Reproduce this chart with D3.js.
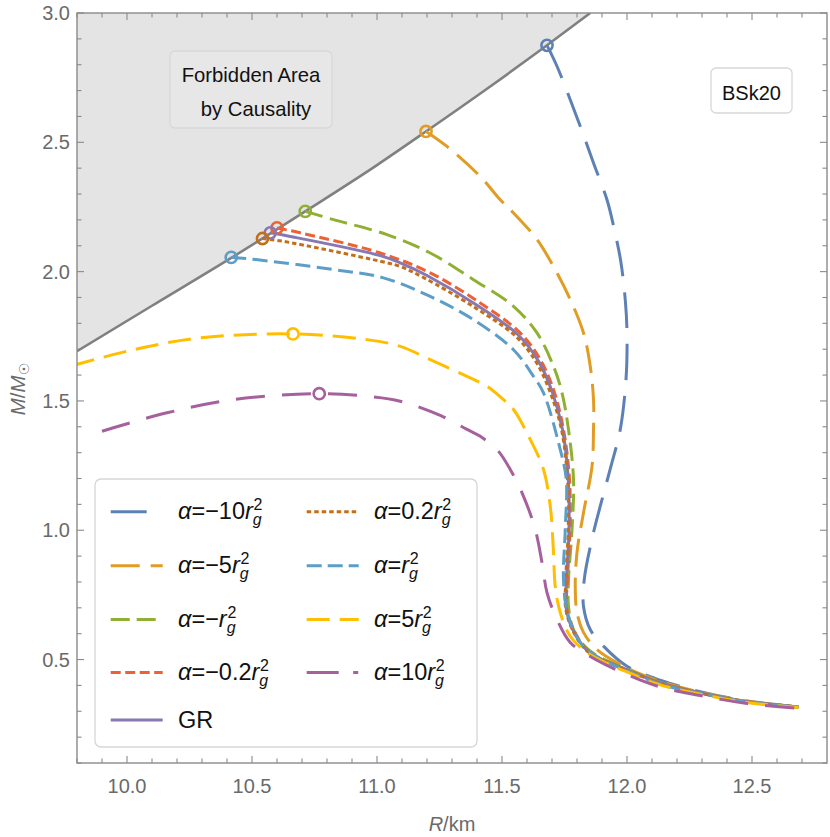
<!DOCTYPE html>
<html><head><meta charset="utf-8">
<script src="https://cdn.jsdelivr.net/npm/d3@7"></script>
<style>
body{margin:0;background:#fff}
svg{display:block}
text{font-family:"Liberation Sans",Arial,sans-serif}
</style>
</head><body>
<svg id="chart" width="830" height="837"></svg>
<script>
// ---------- data ----------
const xDomain = [9.8, 12.8];
const yDomain = [0.1, 3.0];
const xTickLabels = [10.0, 10.5, 11.0, 11.5, 12.0, 12.5];
const yTickLabels = [0.5, 1.0, 1.5, 2.0, 2.5, 3.0];

const causalityR = [9.8, 10.1, 10.417, 10.713, 11.0, 11.196, 11.45, 11.68, 11.853];
const causalityM = [1.692, 1.868, 2.053, 2.233, 2.412, 2.542, 2.714, 2.875, 3.0];

const seriesNames = ["α=−10", "α=−5", "α=−1", "α=−0.2", "GR", "α=0.2", "α=1", "α=5", "α=10"];

const rAm10 = [11.68,11.72,11.813,11.866,11.92,11.95,11.975,11.993,12.0,11.996,11.973,11.94,11.893,11.86,11.829,11.826,11.853,11.906,12.0,12.133,12.293,12.48,12.686];
const mAm10 = [2.875,2.794,2.562,2.42,2.278,2.16,2.04,1.892,1.763,1.583,1.389,1.262,1.093,0.966,0.809,0.706,0.616,0.552,0.474,0.42,0.376,0.340,0.318];

const rAm5 = [11.196,11.28,11.413,11.493,11.546,11.64,11.706,11.773,11.826,11.853,11.866,11.866,11.86,11.826,11.8,11.793,11.8,11.826,11.88,12.0,12.133,12.293,12.48,12.686];
const mAm5 = [2.542,2.484,2.368,2.278,2.227,2.124,2.02,1.892,1.763,1.634,1.505,1.389,1.247,1.068,0.914,0.782,0.682,0.605,0.539,0.468,0.416,0.374,0.339,0.317];

const rAm1 = [10.713,10.826,11.04,11.213,11.386,11.546,11.64,11.706,11.74,11.766,11.786,11.78,11.766,11.766,11.786,11.85,12.0,12.133,12.293,12.48,12.686];
const mAm1 = [2.233,2.201,2.143,2.072,1.969,1.866,1.763,1.634,1.531,1.389,1.196,1.003,0.809,0.706,0.616,0.535,0.462,0.412,0.372,0.338,0.317];

const rAm02 = [10.6,10.693,11.013,11.213,11.413,11.573,11.653,11.706,11.746,11.77,11.772,11.762,11.76,11.8,11.853,12.0,12.133,12.293,12.48,12.686];
const mAm02 = [2.169,2.15,2.072,1.995,1.879,1.763,1.66,1.544,1.389,1.196,1.003,0.809,0.69,0.59,0.527,0.460,0.410,0.371,0.337,0.316];

const rGR = [10.573,10.653,11.013,11.093,11.2,11.4,11.565,11.647,11.70,11.742,11.765,11.768,11.758,11.758,11.797,11.85,12.0,12.133,12.293,12.48,12.686];
const mGR = [2.15,2.136,2.062,2.034,1.985,1.87,1.755,1.652,1.537,1.389,1.196,1.003,0.809,0.69,0.59,0.527,0.460,0.410,0.371,0.337,0.316];

const rAp02 = [10.542,10.626,11.013,11.093,11.19,11.39,11.557,11.64,11.694,11.738,11.762,11.765,11.755,11.756,11.795,11.848,12.0,12.133,12.293,12.48,12.686];
const mAp02 = [2.128,2.117,2.04,2.02,1.975,1.862,1.748,1.645,1.53,1.389,1.196,1.003,0.809,0.69,0.59,0.527,0.459,0.409,0.370,0.337,0.316];

const rAp1 = [10.417,10.493,10.826,11.026,11.213,11.386,11.546,11.626,11.666,11.733,11.757,11.753,11.746,11.762,11.813,11.9,12.0,12.133,12.293,12.48,12.686];
const mAp1 = [2.055,2.049,2.008,1.976,1.904,1.814,1.698,1.595,1.531,1.312,1.196,1.003,0.809,0.682,0.566,0.5,0.457,0.405,0.369,0.336,0.316];

const rAp5 = [9.78,10.026,10.293,10.664,10.96,11.093,11.213,11.386,11.44,11.506,11.546,11.613,11.666,11.693,11.706,11.713,11.733,11.773,11.84,11.92,12.0,12.133,12.293,12.48,12.686];
const mAp5 = [1.636,1.698,1.744,1.759,1.737,1.711,1.66,1.583,1.557,1.505,1.467,1.351,1.235,1.093,0.914,0.782,0.682,0.590,0.527,0.485,0.452,0.402,0.366,0.334,0.315];

const rAp10 = [9.9,10.16,10.426,10.769,10.96,11.093,11.253,11.36,11.413,11.48,11.533,11.586,11.633,11.66,11.68,11.72,11.773,11.853,12.0,12.133,12.293,12.48,12.672];
const mAp10 = [1.383,1.454,1.505,1.528,1.518,1.499,1.444,1.39,1.363,1.312,1.235,1.131,1.003,0.875,0.759,0.655,0.566,0.512,0.442,0.394,0.361,0.330,0.312];

const markerR = [11.68, 11.196, 10.713, 10.6, 10.573, 10.542, 10.417, 10.664, 10.769];
const markerM = [2.875, 2.542, 2.233, 2.169, 2.15, 2.128, 2.055, 1.759, 1.528];

// ---------- styles ----------
const seriesR = [rAm10, rAm5, rAm1, rAm02, rGR, rAp02, rAp1, rAp5, rAp10];
const seriesM = [mAm10, mAm5, mAm1, mAm02, mGR, mAp02, mAp1, mAp5, mAp10];
const colors = ["#5E81B5","#E19C24","#8FB032","#EB6235","#8778B3","#C56E1A","#5D9EC7","#FFBF00","#A5609D"];
const dashes = ["36,16","28,11","18,7.5","10,4.5",null,"4.5,3","15,6.5","23,10","29,17"];
const legendDashes = ["36,16","29,11","19,7","10,4.5",null,"4.5,3","15,6","23,10","32,14.5,5,14.5"];
const legendNum = ["−10","−5","−","−0.2",null,"0.2","","5","10"];

const svg = d3.select("#chart");
const P = {l:77, t:13, r:827, b:763};
const x = d3.scaleLinear().domain(xDomain).range([P.l, P.r]);
const y = d3.scaleLinear().domain(yDomain).range([P.b, P.t]);

svg.append("defs").append("clipPath").attr("id","clip")
  .append("rect").attr("x",P.l).attr("y",P.t).attr("width",P.r-P.l).attr("height",P.b-P.t);

const plot = svg.append("g").attr("clip-path","url(#clip)");

// forbidden area
const cz = causalityR.map((r,i)=>[r,causalityM[i]]);
plot.append("path")
  .attr("d", d3.area().x(d=>x(d[0])).y0(y(yDomain[1])).y1(d=>y(d[1])).curve(d3.curveMonotoneX)(cz))
  .attr("fill","#e4e4e4");
plot.append("path")
  .attr("d", d3.line().x(d=>x(d[0])).y(d=>y(d[1])).curve(d3.curveMonotoneX)(cz))
  .attr("fill","none").attr("stroke","#808080").attr("stroke-width",2.6);

// curves
const line = d3.line().x(d=>x(d[0])).y(d=>y(d[1])).curve(d3.curveCatmullRom.alpha(0.5));
seriesR.forEach((rs,i)=>{
  const pts = rs.map((r,j)=>[r, seriesM[i][j]]);
  plot.append("path").attr("d", line(pts))
    .attr("fill","none").attr("stroke",colors[i]).attr("stroke-width",3)
    .attr("stroke-dasharray", dashes[i] || null);
});
// markers
markerR.forEach((r,i)=>{
  plot.append("circle").attr("cx",x(r)).attr("cy",y(markerM[i])).attr("r",5.6)
    .attr("fill","none").attr("stroke",colors[i]).attr("stroke-width",2.6);
});

// frame + ticks
const frameCol = "#8a8a8a";
svg.append("rect").attr("x",P.l).attr("y",P.t).attr("width",P.r-P.l).attr("height",P.b-P.t)
  .attr("fill","none").attr("stroke",frameCol).attr("stroke-width",1.4);
const tg = svg.append("g").attr("stroke",frameCol).attr("stroke-width",1.1);
d3.range(98, 128).forEach(k=>{
  const v = k/10; const major = (k % 5 === 0); const L = major ? 7 : 4.5;
  tg.append("line").attr("x1",x(v)).attr("x2",x(v)).attr("y1",P.b).attr("y2",P.b-L);
  tg.append("line").attr("x1",x(v)).attr("x2",x(v)).attr("y1",P.t).attr("y2",P.t+L);
});
d3.range(1, 31).forEach(k=>{
  const v = k/10; const major = (k % 5 === 0); const L = major ? 7 : 4.5;
  tg.append("line").attr("y1",y(v)).attr("y2",y(v)).attr("x1",P.l).attr("x2",P.l+L);
  tg.append("line").attr("y1",y(v)).attr("y2",y(v)).attr("x1",P.r).attr("x2",P.r-L);
});
const labCol = "#6a6a6a";
xTickLabels.forEach(v=>{
  svg.append("text").attr("x",x(v)).attr("y",793).attr("text-anchor","middle")
    .attr("font-size",20).attr("fill",labCol).text(v.toFixed(1));
});
yTickLabels.forEach(v=>{
  svg.append("text").attr("x",70).attr("y",y(v)+7).attr("text-anchor","end")
    .attr("font-size",20).attr("fill",labCol).text(v.toFixed(1));
});
// axis labels
const xl = svg.append("text").attr("x",(P.l+P.r)/2).attr("y",831).attr("text-anchor","middle")
  .attr("font-size",20).attr("fill",labCol);
xl.append("tspan").attr("font-style","italic").text("R");
xl.append("tspan").text("/km");
const yl = svg.append("text").attr("transform","translate(25,389) rotate(-90)").attr("text-anchor","middle")
  .attr("font-size",20.5).attr("fill",labCol);
yl.append("tspan").attr("font-style","italic").text("M");
yl.append("tspan").text("/");
yl.append("tspan").attr("font-style","italic").text("M");
yl.append("tspan").attr("dy",4).attr("font-size",14).attr("font-family","DejaVu Sans").text("☉");

// forbidden label box
svg.append("rect").attr("x",170).attr("y",51).attr("width",162).attr("height",77).attr("rx",5)
  .attr("fill","#e7e7e7").attr("stroke","#d8d8d8").attr("stroke-width",1.3);
svg.append("text").attr("x",251).attr("y",82).attr("text-anchor","middle").attr("font-size",20.3).attr("fill","#111").text("Forbidden Area");
svg.append("text").attr("x",256).attr("y",115.5).attr("text-anchor","middle").attr("font-size",20.3).attr("fill","#111").text("by Causality");

// BSk20 box
svg.append("rect").attr("x",711).attr("y",68).attr("width",81).attr("height",45).attr("rx",5)
  .attr("fill","#fff").attr("stroke","#d8d8d8").attr("stroke-width",1.3);
svg.append("text").attr("x",751.5).attr("y",100).attr("text-anchor","middle").attr("font-size",20).attr("fill","#111").text("BSk20");

// legend
svg.append("rect").attr("x",95).attr("y",479).attr("width",382).attr("height",268).attr("rx",6)
  .attr("fill","#fff").attr("stroke","#d6d6d6").attr("stroke-width",1.3);
const colX = [110.7, 306.7], txtX = [178, 374];
const rowY = [511.7, 565.7, 619.5, 672.5, 720];
seriesNames.forEach((name,i)=>{
  const col = i < 5 ? 0 : 1, row = i < 5 ? i : i-5;
  const sy = rowY[row];
  svg.append("line").attr("x1",colX[col]).attr("x2",colX[col]+52).attr("y1",sy).attr("y2",sy)
    .attr("stroke",colors[i]).attr("stroke-width",3).attr("stroke-dasharray",legendDashes[i]||null);
  const t = svg.append("text").attr("x",txtX[col]).attr("y",sy+7.5).attr("font-size",23.5).attr("fill","#111");
  if (legendNum[i] === null) { t.text(name); return; }
  t.append("tspan").attr("font-style","italic").text("α");
  t.append("tspan").text("=" + legendNum[i]);
  t.append("tspan").attr("font-style","italic").text("r");
  t.append("tspan").attr("font-style","italic").attr("font-size",16).attr("dy",6).text("g");
  t.append("tspan").attr("font-size",16).attr("dy",-15).attr("dx",-8.2).text("2");
});
</script>
</body></html>
